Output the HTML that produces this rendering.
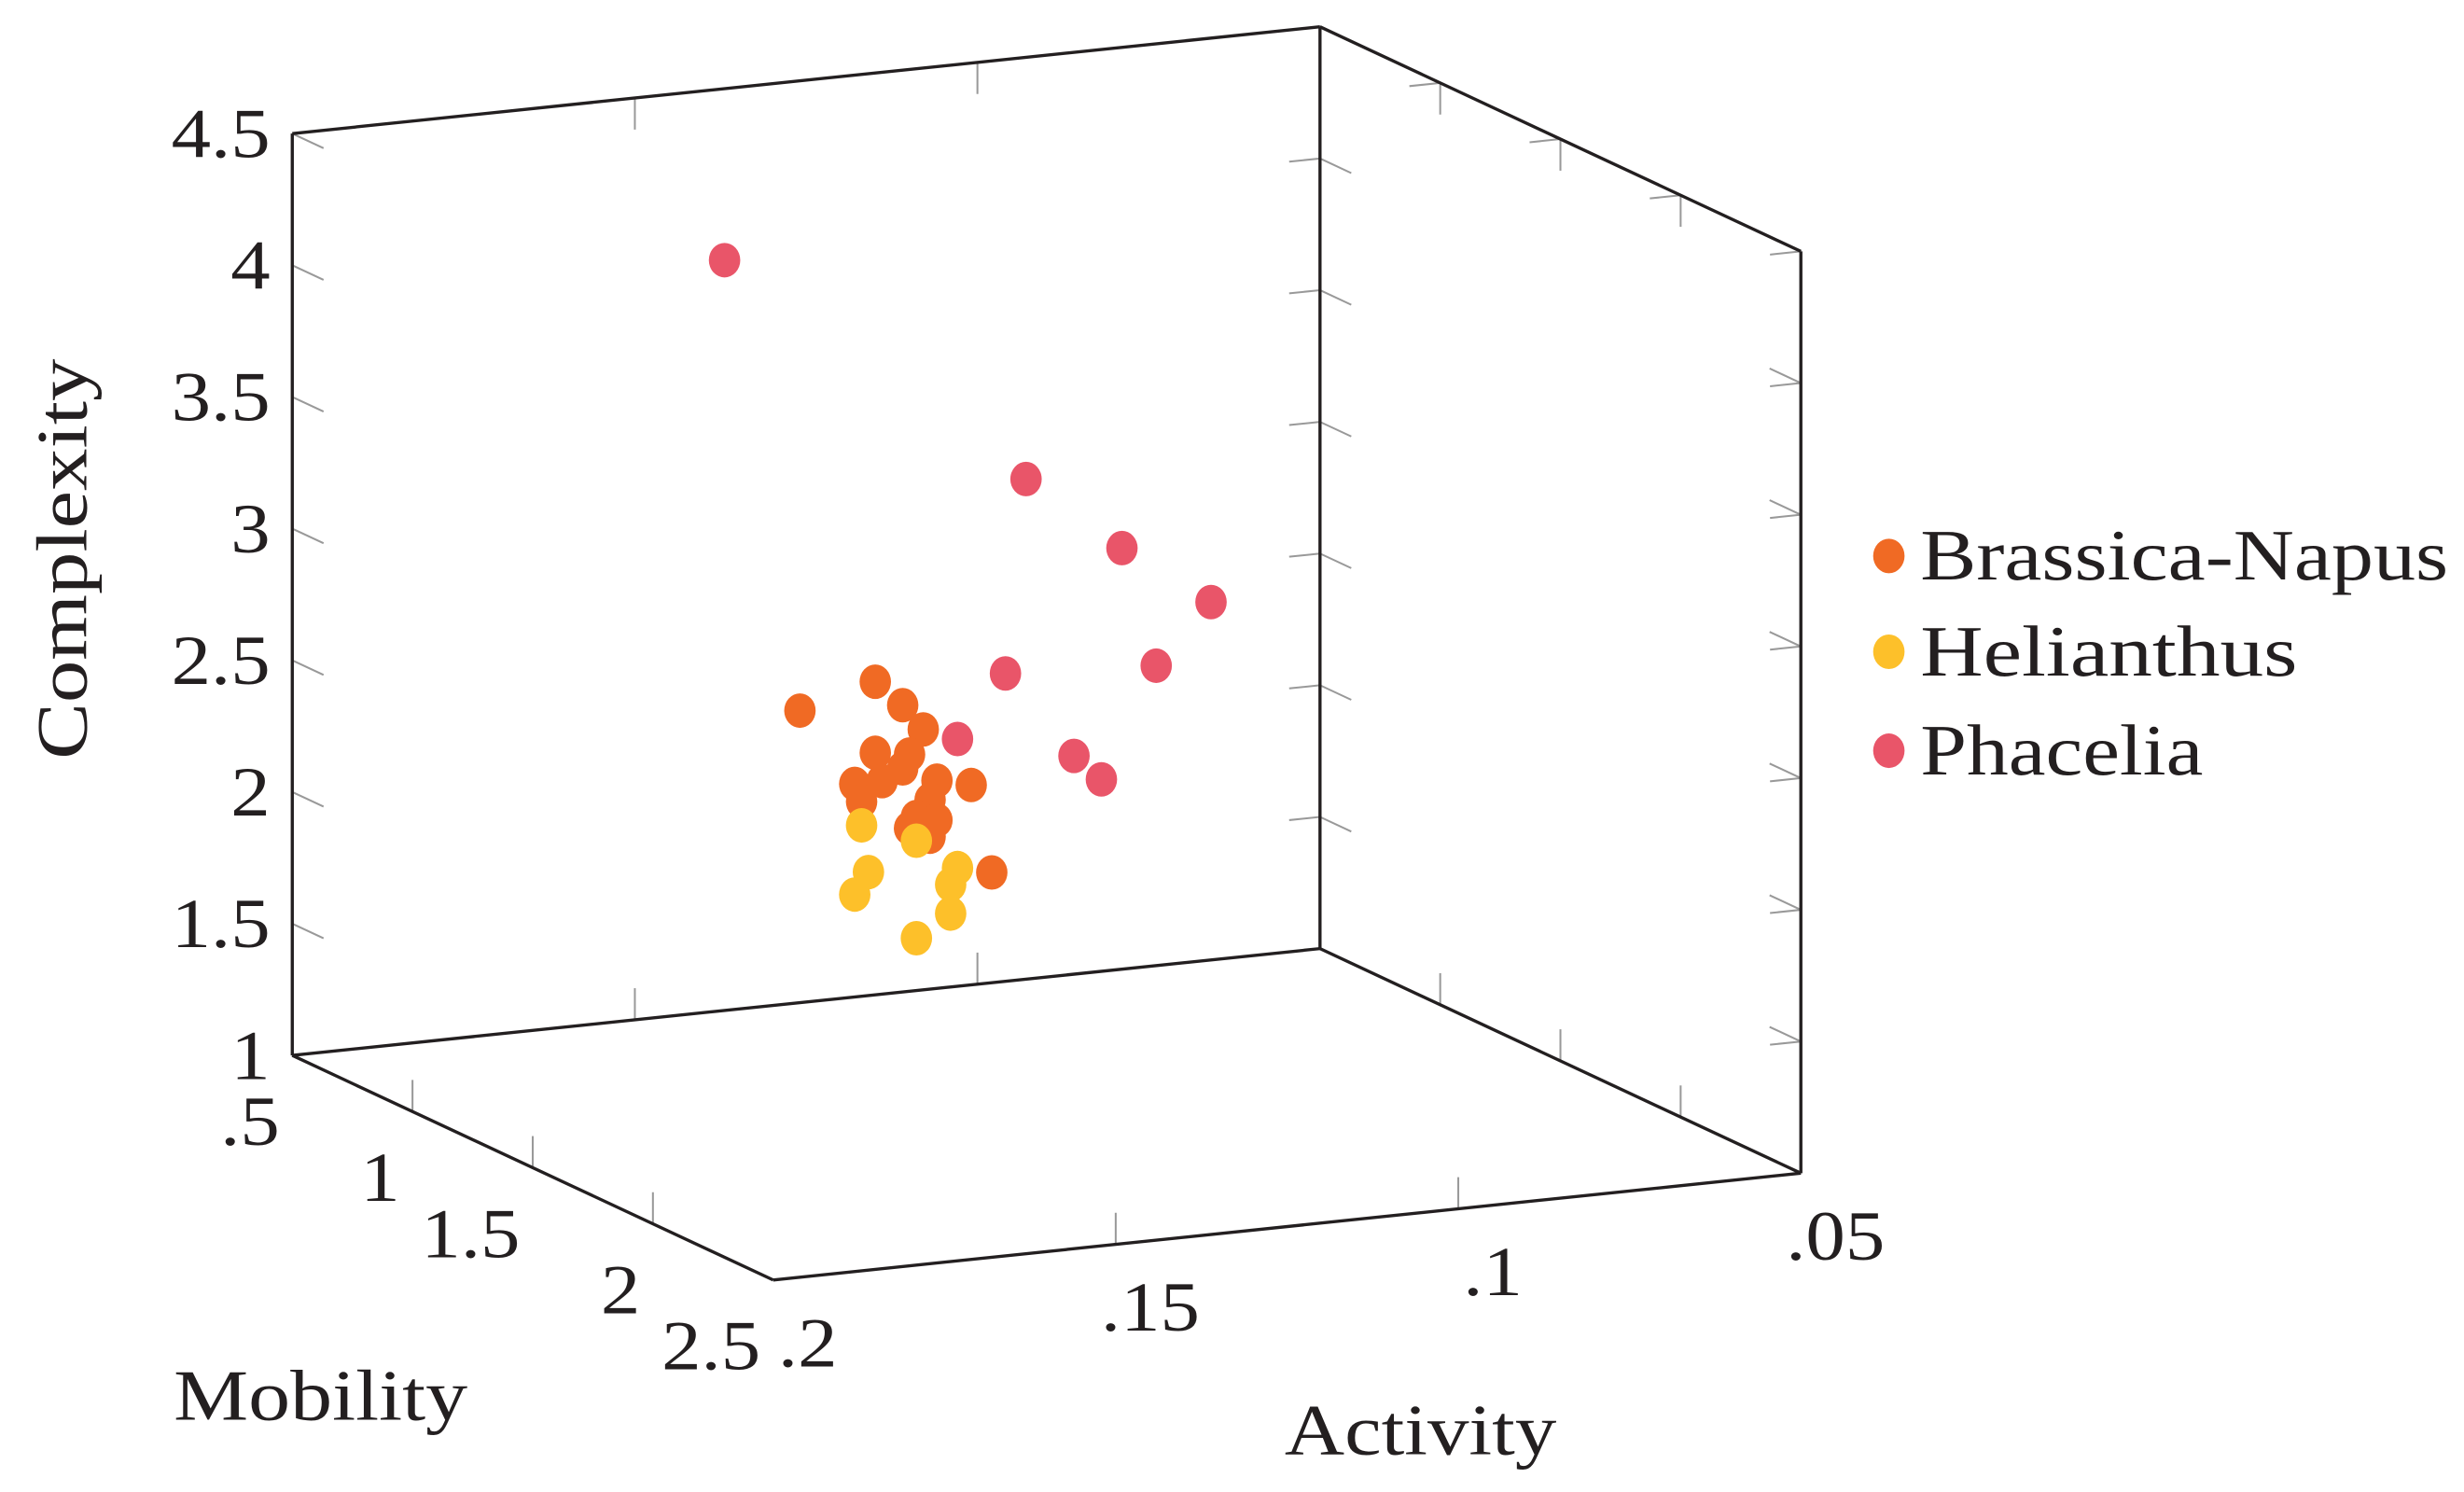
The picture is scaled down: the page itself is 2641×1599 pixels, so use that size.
<!DOCTYPE html>
<html><head><meta charset="utf-8"><style>
html,body{margin:0;padding:0;background:#fff;}
svg{display:block;}
text{font-family:"Liberation Serif",serif;fill:#231f20;}
</style></head><body>
<svg id="chart" width="2641" height="1599" viewBox="0 0 1568 950" preserveAspectRatio="none" xmlns="http://www.w3.org/2000/svg">
<g id="ticks"></g>
<g id="box"></g>
<g id="labels"></g>
<g id="points"></g>
<text transform="translate(55,356) rotate(-90)" text-anchor="middle" font-size="46" textLength="255" lengthAdjust="spacingAndGlyphs">Complexity</text>
<text x="204" y="904" text-anchor="middle" font-size="46" textLength="187" lengthAdjust="spacingAndGlyphs">Mobility</text>
<text x="904" y="926" text-anchor="middle" font-size="46" textLength="173" lengthAdjust="spacingAndGlyphs">Activity</text>
<g>
<g><ellipse cx="1202" cy="354" rx="10" ry="11" fill="#F06A24"/><text x="1222" y="369" font-size="46" textLength="336" lengthAdjust="spacingAndGlyphs">Brassica-Napus</text></g>
<g><ellipse cx="1202" cy="415" rx="10" ry="11" fill="#FDC02A"/><text x="1222" y="430" font-size="46" textLength="240" lengthAdjust="spacingAndGlyphs">Helianthus</text></g>
<g><ellipse cx="1202" cy="478" rx="10" ry="11" fill="#E95569"/><text x="1222" y="493" font-size="46" textLength="180" lengthAdjust="spacingAndGlyphs">Phacelia</text></g>
</g>
</svg>
<script>
const zTicks=[1.5,2,2.5,3,3.5,4,4.5];
const zTickLabels=["1","1.5","2","2.5","3","3.5","4","4.5"];
const zLabelVals=[1,1.5,2,2.5,3,3.5,4,4.5];
const mTicks=[1,1.5,2];
const mLabelVals=[0.5,1,1.5,2,2.5];
const mTickLabels=[".5","1","1.5","2","2.5"];
const aTicks=[0.15,0.1];
const aLabelVals=[0.2,0.15,0.1,0.05];
const aTickLabels=[".2",".15",".1",".05"];
const brassicaActivity=[.161,.150,.146,.143,.150,.145,.146,.153,.149,.141,.136,.152,.142,.144,.141,.145,.142,.133];
const brassicaMobility=[1.5,1.5,1.5,1.5,1.5,1.5,1.5,1.5,1.5,1.5,1.5,1.5,1.5,1.5,1.5,1.5,1.5,1.5];
const brassicaComplexity=[2.63,2.71,2.61,2.51,2.44,2.42,2.37,2.33,2.33,2.31,2.28,2.26,2.24,2.18,2.16,2.14,2.10,1.94];
const helianthusActivity=[.152,.144,.151,.153,.138,.139,.139,.144];
const helianthusMobility=[1.5,1.5,1.5,1.5,1.5,1.5,1.5,1.5];
const helianthusComplexity=[2.17,2.09,1.99,1.91,1.97,1.91,1.80,1.72];
const phaceliaActivity=[.172,.128,.114,.101,.109,.131,.138,.121,.117];
const phaceliaMobility=[1.5,1.5,1.5,1.5,1.5,1.5,1.5,1.5,1.5];
const phaceliaComplexity=[4.37,3.42,3.12,2.88,2.66,2.69,2.46,2.35,2.25];

const NS="http://www.w3.org/2000/svg";
function P(a,m,c){return [186+153*(m-0.5)+4360*(0.2-a), 672+71.5*(m-0.5)-453.3*(0.2-a)-167.7*(c-1)];}
function line(g,p,q,stroke,w,name){const l=document.createElementNS(NS,'line');
l.setAttribute('x1',p[0]);l.setAttribute('y1',p[1]);l.setAttribute('x2',q[0]);l.setAttribute('y2',q[1]);
l.setAttribute('stroke',stroke);l.setAttribute('stroke-width',w);


g.appendChild(l);}
const box=document.getElementById('box'),tk=document.getElementById('ticks'),lb=document.getElementById('labels'),pts=document.getElementById('points');
const K='#231f20',G='#999';
line(box,P(.2,.5,1),P(.2,.5,4.5),K,2,'box-edge');
line(box,P(.05,.5,1),P(.05,.5,4.5),K,2,'box-edge');
line(box,P(.05,2.5,1),P(.05,2.5,4.5),K,2,'box-edge');
line(box,P(.2,.5,4.5),P(.05,.5,4.5),K,2,'box-edge');
line(box,P(.05,.5,4.5),P(.05,2.5,4.5),K,2,'box-edge');
line(box,P(.2,.5,1),P(.05,.5,1),K,2,'box-edge');
line(box,P(.2,.5,1),P(.2,2.5,1),K,2,'box-edge');
line(box,P(.2,2.5,1),P(.05,2.5,1),K,2,'box-edge');
line(box,P(.05,.5,1),P(.05,2.5,1),K,2,'box-edge');
zTicks.forEach(c=>{
 line(tk,P(.2,.5,c),P(.2,.63,c),G,1.2,'z-tick');
 line(tk,P(.05,.5,c),P(.05,.63,c),G,1.2,'z-tick');
 line(tk,P(.05,.5,c),P(.0545,.5,c),G,1.2,'z-tick');
 line(tk,P(.05,2.5,c),P(.05,2.37,c),G,1.2,'z-tick');
 line(tk,P(.05,2.5,c),P(.0545,2.5,c),G,1.2,'z-tick');
});
aTicks.forEach(a=>{
 line(tk,P(a,2.5,1),P(a,2.5,1.12),G,1.2,'activity-tick');
 line(tk,P(a,.5,1),P(a,.5,1.12),G,1.2,'activity-tick');
 line(tk,P(a,.5,4.5),P(a,.5,4.38),G,1.2,'activity-tick');
});
mTicks.forEach(m=>{
 line(tk,P(.2,m,1),P(.2,m,1.12),G,1.2,'mobility-tick');
 line(tk,P(.05,m,1),P(.05,m,1.12),G,1.2,'mobility-tick');
 line(tk,P(.05,m,4.5),P(.05,m,4.38),G,1.2,'mobility-tick');
 line(tk,P(.05,m,4.5),P(.0545,m,4.5),G,1.2,'mobility-tick');
});
function txt(x,y,s,anchor,name){const t=document.createElementNS(NS,'text');
t.setAttribute('x',x);t.setAttribute('y',y);t.setAttribute('font-size','45');t.setAttribute('text-anchor',anchor);t.textContent=s;
t.setAttribute('transform','translate('+x+' 0) scale(1.12 1) translate('+(-x)+' 0)');


lb.appendChild(t);}
zLabelVals.forEach((c,i)=>{const p=P(.2,.5,c);txt(p[0]-14,p[1]+15,zTickLabels[i],'end','z-tick-label');});
mLabelVals.forEach((m,i)=>{const p=P(.2,m,1);txt(p[0]-8,p[1]+57,mTickLabels[i],'end','mobility-tick-label');});
aLabelVals.forEach((a,i)=>{const p=P(a,2.5,1);txt(p[0]+22,p[1]+55,aTickLabels[i],'middle','activity-tick-label');});
function series(A,M,C,col,name){for(let i=0;i<A.length;i++){const p=P(A[i],M[i],C[i]);const e=document.createElementNS(NS,'ellipse');
e.setAttribute('cx',p[0]);e.setAttribute('cy',p[1]);e.setAttribute('rx',10);e.setAttribute('ry',11);e.setAttribute('fill',col);


pts.appendChild(e);}}
series(brassicaActivity,brassicaMobility,brassicaComplexity,'#F06A24','brassica-point');
series(phaceliaActivity,phaceliaMobility,phaceliaComplexity,'#E95569','phacelia-point');
series(helianthusActivity,helianthusMobility,helianthusComplexity,'#FDC02A','helianthus-point');
</script>
</body></html>
